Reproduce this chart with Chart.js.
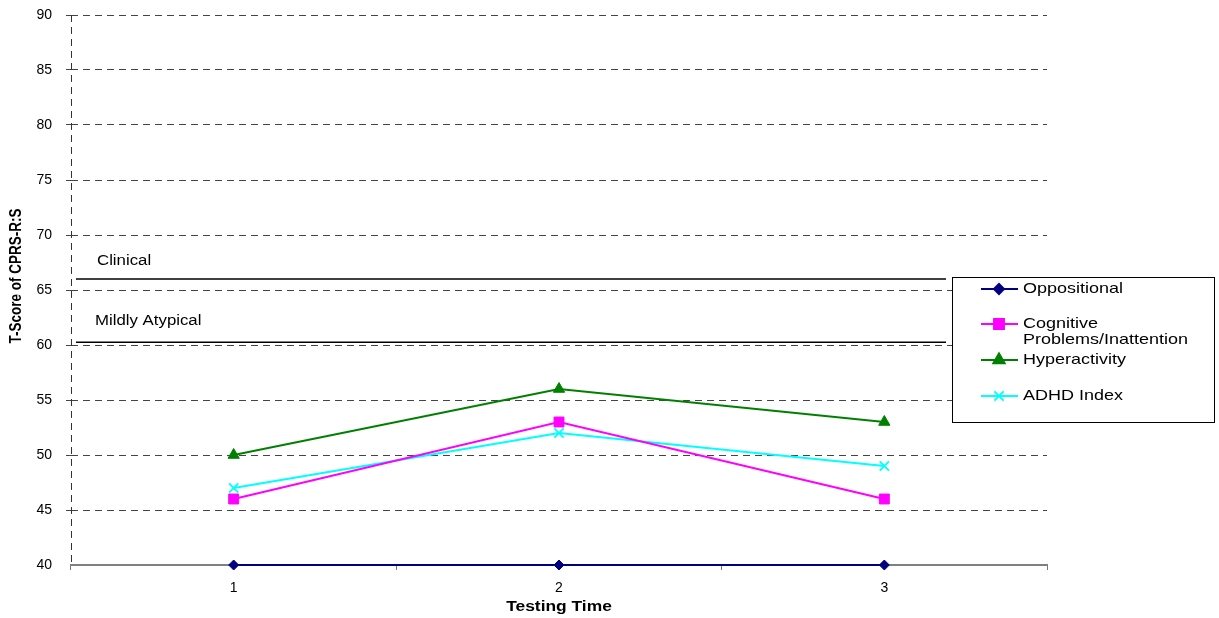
<!DOCTYPE html>
<html>
<head>
<meta charset="utf-8">
<script src="https://cdn.jsdelivr.net/npm/chart.js@4/dist/chart.umd.min.js"></script>
<style>
  html, body { margin: 0; padding: 0; background: #fff; }
  #wrap { width: 1219px; height: 618px; position: relative; }
</style>
</head>
<body>
<div id="wrap"><canvas id="c" width="1219" height="618"></canvas></div>
<script>
// Testing sessions and CPRS-R:S T-scores per subscale
const testingTimes = ['1', '2', '3'];
const oppositional = [40, 40, 40];
const cognitive = [46, 53, 46];
const hyperactivity = [50, 56, 53];
const adhdIndex = [47, 52, 49];

// Cut-off bands
const clinicalCutoff = 66;
const mildCutoff = 60.25;

const yMin = 40, yMax = 90, yStep = 5;

const FONT = '"Liberation Sans", Arial, Helvetica, sans-serif';
const SX = 1.2; // wide lettering

function stretchedText(ctx, text, x, y, font, align, sx) {
  ctx.save();
  ctx.font = font;
  ctx.fillStyle = '#000';
  ctx.textBaseline = 'middle';
  ctx.textAlign = align;
  ctx.translate(x, y);
  ctx.scale(sx, 1);
  ctx.fillText(text, 0, 0);
  ctx.restore();
}

const decorPlugin = {
  id: 'decor',
  afterDraw(chart) {
    const ctx = chart.ctx;
    const area = chart.chartArea;
    const y = chart.scales.y;

    // dashed value axis
    ctx.save();
    ctx.strokeStyle = '#333';
    ctx.lineWidth = 1;
    ctx.setLineDash([7, 5]);
    ctx.beginPath();
    ctx.moveTo(area.left + 0.5, area.top);
    ctx.lineTo(area.left + 0.5, area.bottom);
    ctx.stroke();
    ctx.restore();

    // band boundaries
    const bx0 = area.left + 5, bx1 = 946;
    ctx.save();
    ctx.strokeStyle = '#000';
    ctx.lineWidth = 1.5;
    [clinicalCutoff, mildCutoff].forEach(v => {
      const py = y.getPixelForValue(v);
      ctx.beginPath();
      ctx.moveTo(bx0, py);
      ctx.lineTo(bx1, py);
      ctx.stroke();
    });
    ctx.restore();
    stretchedText(ctx, 'Clinical', 97, y.getPixelForValue(clinicalCutoff) - 18, '14px ' + FONT, 'left', SX);
    stretchedText(ctx, 'Mildly Atypical', 95, y.getPixelForValue(mildCutoff) - 21, '14px ' + FONT, 'left', SX);

    // axis titles
    stretchedText(ctx, 'Testing Time', (area.left + area.right) / 2, 607, 'bold 14.5px ' + FONT, 'center', SX);
    ctx.save();
    ctx.translate(17, 276);
    ctx.rotate(-Math.PI / 2);
    ctx.scale(1, SX);
    ctx.font = 'bold 13.5px ' + FONT;
    ctx.fillStyle = '#000';
    ctx.textAlign = 'center';
    ctx.textBaseline = 'middle';
    ctx.fillText('T-Score of CPRS-R:S', 0, 0);
    ctx.restore();

    // legend
    const lx = 952, ly = 277, lw = 262, lh = 145;
    ctx.save();
    ctx.fillStyle = '#fff';
    ctx.fillRect(lx, ly, lw, lh);
    ctx.strokeStyle = '#000';
    ctx.lineWidth = 1;
    ctx.strokeRect(lx + 0.5, ly + 0.5, lw, lh);
    ctx.restore();
    const rows = [
      { lines: ['Oppositional'], y: 289 },
      { lines: ['Cognitive', 'Problems/Inattention'], y: 324 },
      { lines: ['Hyperactivity'], y: 360 },
      { lines: ['ADHD Index'], y: 396 }
    ];
    chart.data.datasets.forEach((ds, i) => {
      const r = rows[i];
      ctx.save();
      ctx.strokeStyle = ds.borderColor;
      ctx.lineWidth = 2;
      ctx.beginPath();
      ctx.moveTo(981, r.y);
      ctx.lineTo(1018, r.y);
      ctx.stroke();
      ctx.fillStyle = ds.pointBackgroundColor;
      ctx.strokeStyle = ds.pointBorderColor;
      Chart.helpers.drawPoint(ctx, {
        pointStyle: ds.pointStyle,
        radius: ds.pointRadius,
        rotation: 0,
        borderWidth: ds.pointBorderWidth
      }, 999, r.y);
      ctx.restore();
      r.lines.forEach((t, k) => {
        stretchedText(ctx, t, 1023, r.y + k * 16, '15px ' + FONT, 'left', SX);
      });
    });
  }
};

function series(label, data, color, style, radius, bw) {
  return {
    label, data,
    borderColor: color,
    backgroundColor: color,
    pointBackgroundColor: color,
    pointBorderColor: color,
    pointStyle: style,
    pointRadius: radius,
    pointHoverRadius: radius,
    pointBorderWidth: bw,
    borderWidth: 2,
    tension: 0,
    clip: false
  };
}

new Chart(document.getElementById('c'), {
  type: 'line',
  data: {
    labels: testingTimes,
    datasets: [
      series('Oppositional', oppositional, '#000080', 'rectRot', 5, 1),
      series('Cognitive Problems/Inattention', cognitive, '#FF00FF', 'rect', 7, 1),
      series('Hyperactivity', hyperactivity, '#008000', 'triangle', 6.5, 1),
      series('ADHD Index', adhdIndex, '#00FFFF', 'crossRot', 6.5, 1.8)
    ]
  },
  options: {
    responsive: false,
    animation: false,
    events: [],
    layout: { padding: { top: 15, right: 172, left: 0, bottom: 0 } },
    plugins: { legend: { display: false }, tooltip: { enabled: false } },
    scales: {
      x: {
        offset: true,
        afterFit(scale) { scale.height = 53; scale.paddingLeft = 0; scale.paddingRight = 0; },
        grid: {
          offset: true,
          drawOnChartArea: false,
          drawTicks: true,
          tickLength: 5,
          color: '#777'
        },
        border: { display: true, color: '#808080', width: 2 },
        ticks: { color: '#000', font: { family: FONT, size: 14 }, padding: 10 }
      },
      y: {
        min: yMin, max: yMax,
        afterFit(scale) { scale.width = 71; scale.paddingTop = 0; scale.paddingBottom = 0; },
        ticks: {
          stepSize: yStep,
          color: '#000',
          font: { family: FONT, size: 14 },
          padding: 14
        },
        grid: {
          color: ctx => (ctx.tick && ctx.tick.value === yMin) ? 'rgba(0,0,0,0)' : '#444',
          lineWidth: 1,
          tickLength: 5
        },
        border: { display: false, dash: [7, 5] }
      }
    }
  },
  plugins: [decorPlugin]
});
</script>
</body>
</html>
